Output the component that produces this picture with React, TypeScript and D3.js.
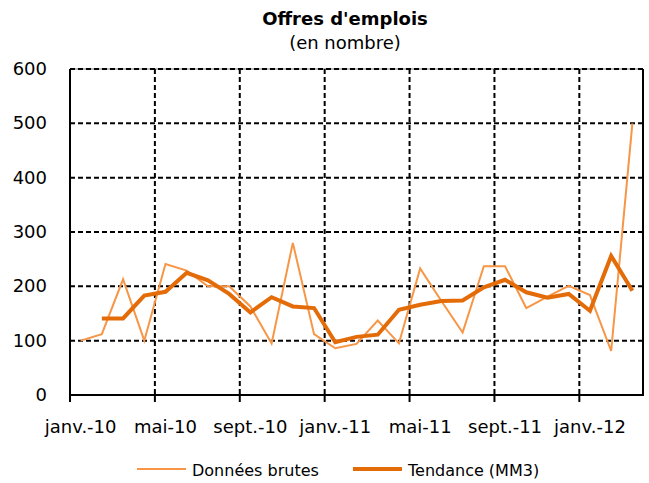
import React from "react";
import * as d3 from "d3";

const months = [
  "janv.-10","févr.-10","mars-10","avr.-10","mai-10","juin-10","juil.-10","août-10","sept.-10","oct.-10","nov.-10","déc.-10",
  "janv.-11","févr.-11","mars-11","avr.-11","mai-11","juin-11","juil.-11","août-11","sept.-11","oct.-11","nov.-11","déc.-11",
  "janv.-12","févr.-12","mars-12",
];
const brutes = [100,112,213,100,241,229,200,200,163,95,280,112,86,94,137,95,233,173,115,237,237,160,181,201,184,81,500];
const tendance: (number | null)[] = [null,141,141,183,190,225,211,186,152,180,163,160,97,107,111,157,166,173,174,198,212,189,179,186,155,256,192];
const yTicks = [0,100,200,300,400,500,600];
const labelMonths = ["janv.-10","mai-10","sept.-10","janv.-11","mai-11","sept.-11","janv.-12"];

const W = 649, H = 483;
const L = 70, R = 643, T = 69, B = 395;
const FONT = "'DejaVu Sans', Verdana, sans-serif";

export default function App() {
  const x = d3.scaleBand<string>().domain(months).range([L, R]).padding(0);
  const y = d3.scaleLinear().domain([0, 600]).range([B, T]);
  const cx = (m: string) => (x(m) as number) + x.bandwidth() / 2;

  const rawLine = d3.line<number>().x((_, i) => cx(months[i])).y((v) => y(v));
  const trendLine = d3
    .line<number | null>()
    .defined((v) => v !== null)
    .x((_, i) => cx(months[i]))
    .y((v) => y(v as number));

  const boundaries = months.map((m, i) => ({ m, i })).filter((d) => d.i % 4 === 0);

  return (
    <svg width={W} height={H} style={{ position: "absolute", left: 0, top: 0, background: "#fff" }}>
      <rect x={0} y={0} width={W} height={H} fill="#fff" />
      <text x={345} y={25} textAnchor="middle" fontFamily={FONT} fontWeight="bold" fontSize={18} fill="#000">
        Offres d'emplois
      </text>
      <text x={345} y={49} textAnchor="middle" fontFamily={FONT} fontSize={18} fill="#000">
        (en nombre)
      </text>

      {/* horizontal gridlines */}
      {yTicks.filter((t) => t > 0).map((t) => (
        <g key={"h" + t}>
          {t === 600 && <line x1={L} x2={R} y1={y(t)} y2={y(t)} stroke="#bbb" strokeWidth={2} />}
          <line x1={L} x2={R} y1={y(t)} y2={y(t)} stroke="#000" strokeWidth={2} strokeDasharray="5,3" />
        </g>
      ))}
      {/* vertical gridlines */}
      {boundaries.filter((d) => d.i > 0).map((d) => (
        <line key={"v" + d.i} x1={x(d.m) as number} x2={x(d.m) as number} y1={T} y2={B} stroke="#000" strokeWidth={2} strokeDasharray="5,3" />
      ))}

      {/* frame */}
      <line x1={L} x2={L} y1={T} y2={B} stroke="#000" strokeWidth={2} />
      <line x1={R} x2={R} y1={T} y2={B} stroke="#000" strokeWidth={2} />
      <line x1={L - 1} x2={R + 1} y1={B} y2={B} stroke="#000" strokeWidth={2} />

      {/* x ticks */}
      {boundaries.map((d) => (
        <line key={"t" + d.i} x1={x(d.m) as number} x2={x(d.m) as number} y1={B} y2={B + 7} stroke="#000" strokeWidth={2} />
      ))}

      {/* y labels */}
      {yTicks.map((t) => (
        <text key={"yl" + t} x={47} y={y(t) + 6} textAnchor="end" fontFamily={FONT} fontSize={18} fill="#000">
          {t}
        </text>
      ))}
      {/* x labels */}
      {labelMonths.map((m) => (
        <text key={"xl" + m} x={cx(m)} y={433} textAnchor="middle" fontFamily={FONT} fontSize={18} fill="#000">
          {m}
        </text>
      ))}

      {/* series */}
      <path d={rawLine(brutes) as string} fill="none" stroke="#F79646" strokeWidth={2} strokeLinejoin="miter" />
      <path d={trendLine(tendance) as string} fill="none" stroke="#E36C09" strokeWidth={4} strokeLinejoin="miter" />

      {/* legend */}
      <line x1={137} x2={186} y1={469} y2={469} stroke="#F79646" strokeWidth={2} />
      <text x={192} y={476} fontFamily={FONT} fontSize={16} fill="#000">Données brutes</text>
      <line x1={353} x2={402} y1={469} y2={469} stroke="#E36C09" strokeWidth={4} />
      <text x={408} y={476} fontFamily={FONT} fontSize={16} fill="#000">Tendance (MM3)</text>
    </svg>
  );
}
